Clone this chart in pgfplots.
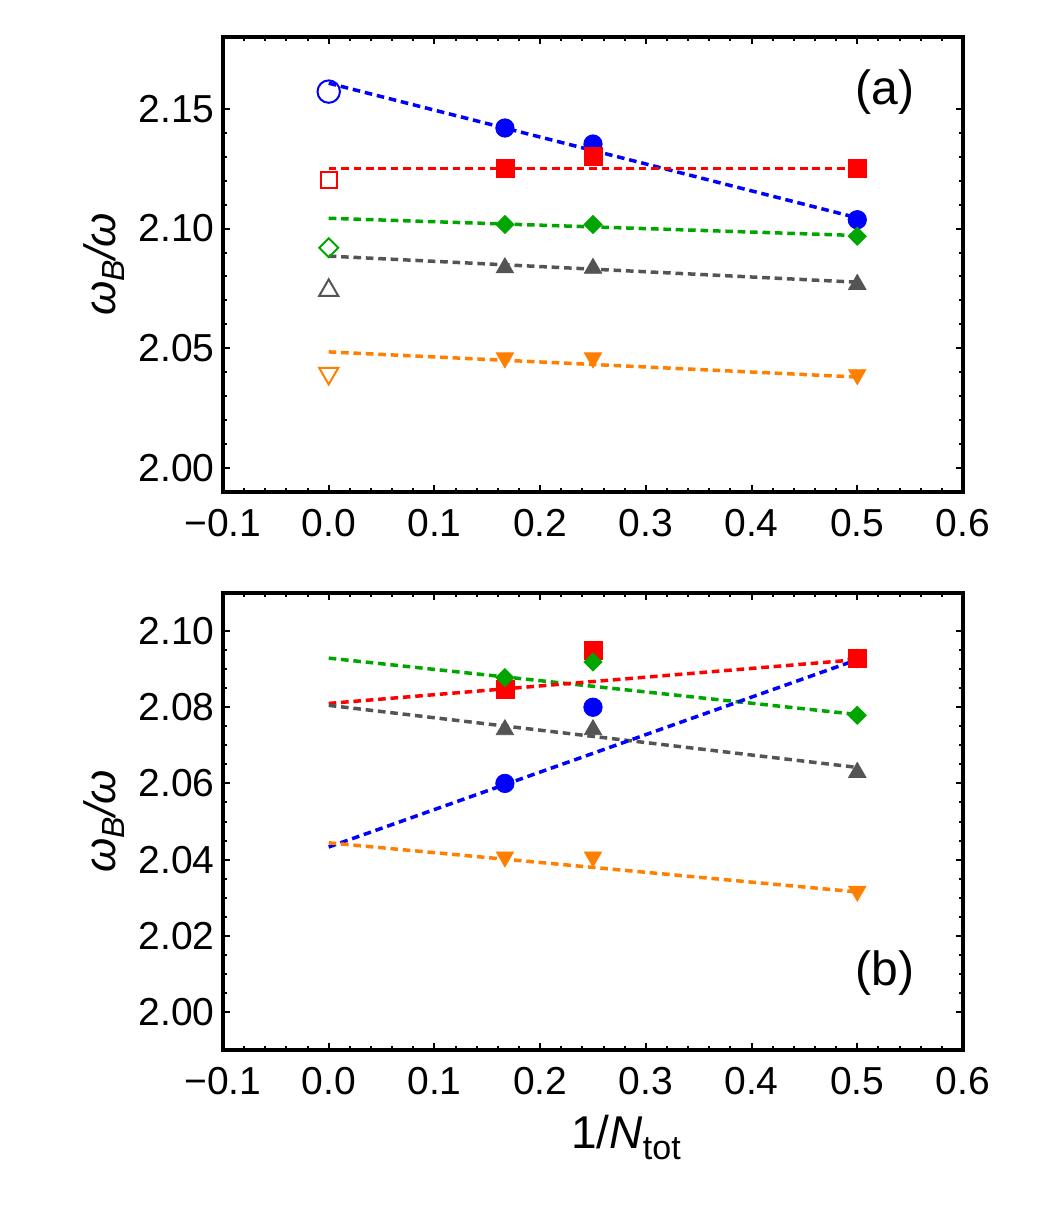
\documentclass[border=0pt]{standalone}
\usepackage{fontspec}
\setmainfont{Liberation Sans}
\usepackage{pgfplots}
\pgfplotsset{compat=1.18}

\definecolor{cblue}{rgb}{0,0,1}
\definecolor{cred}{rgb}{1,0,0}
\definecolor{cgreen}{rgb}{0,0.65,0}
\definecolor{cgray}{rgb}{0.33,0.33,0.33}
\definecolor{corange}{rgb}{1,0.5,0}

\newcommand\tickfont{\fontsize{19.5}{20}\selectfont}
\newcommand\wlabel{{\fontsize{22}{22}\selectfont\itshape ω\raisebox{-0.22em}{\fontsize{16}{16}\selectfont B}/ω}}

\pgfplotsset{
  panel/.style={
    scale only axis, width=370pt,
    xmin=-0.1, xmax=0.6,
    xtick={-0.1,0,0.1,0.2,0.3,0.4,0.5,0.6},
    xticklabels={−0.1,0.0,0.1,0.2,0.3,0.4,0.5,0.6},
    minor x tick num=4,
    axis line style={line width=2.4pt},
    tick style={black, line width=1pt},
    major tick length=3.6pt, minor tick length=2.1pt,
    tick align=inside,
    ticklabel style={font=\tickfont, inner sep=0pt},
    xticklabel style={yshift=-8.5pt},
    yticklabel style={xshift=-4pt},
    ylabel={\wlabel},
    ylabel style={at={(axis description cs:-0.1608,0.5)}, anchor=center, inner sep=0pt},
  },
  fit/.style={no marks, dash pattern=on 3.8pt off 2.4pt, line width=1.75pt},
  fcirc/.style={only marks, mark=*, mark size=4.6pt, mark options={draw=none}},
  ocirc/.style={only marks, mark=o, mark size=5.6pt, mark options={line width=1pt}},
  fsq/.style={only marks, mark=square*, mark size=4.5pt, mark options={draw=none}},
  osq/.style={only marks, mark=square, mark size=3.9pt, mark options={line width=1pt}},
  fdia/.style={only marks, mark=square*, mark size=3.2pt, mark options={draw=none, rotate=45}},
  odia/.style={only marks, mark=square, mark size=3.35pt, mark options={line width=1pt, rotate=45}},
  ftri/.style={only marks, mark=triangle*, mark size=5.0pt, mark options={draw=none}},
  otri/.style={only marks, mark=triangle, mark size=5.5pt, mark options={line width=1pt}},
  fdtri/.style={only marks, mark=triangle*, mark size=5.0pt, mark options={draw=none, rotate=180}},
  odtri/.style={only marks, mark=triangle, mark size=5.5pt, mark options={line width=1pt, rotate=180}},
}

\begin{document}
\begin{tikzpicture}
% overall page extent
\path (-111.5pt,-363.5pt) rectangle (409.5pt,246pt);

% ---------------- panel (a) ----------------
\begin{axis}[panel, at={(0,0)}, anchor=south west, height=227.5pt,
  ymin=1.99, ymax=2.18,
  ytick={2.00,2.05,2.10,2.15}, yticklabels={2.00,2.05,2.10,2.15},
  minor y tick num=4]
  % extrapolated values at 1/N_tot = 0
  \addplot[ocirc, cblue]   coordinates {(0,2.1572)};
  \addplot[osq,   cred]    coordinates {(0,2.1202)};
  \addplot[odia,  cgreen]  coordinates {(0,2.0920)};
  \addplot[otri,  cgray]   coordinates {(0,2.0742)};
  \addplot[odtri, corange] coordinates {(0,2.0395)};
  % finite-size results
  \addplot[fcirc, cblue]   coordinates {(0.16667,2.1420) (0.25,2.1353) (0.5,2.1037)};
  \addplot[fsq,   cred]    coordinates {(0.16667,2.1250) (0.25,2.1300) (0.5,2.1250)};
  \addplot[fdia,  cgreen]  coordinates {(0.16667,2.1017) (0.25,2.1017) (0.5,2.0968)};
  \addplot[ftri,  cgray]   coordinates {(0.16667,2.0836) (0.25,2.0834) (0.5,2.0767)};
  \addplot[fdtri, corange] coordinates {(0.16667,2.0460) (0.25,2.0460) (0.5,2.0390)};
  % linear fits
  \addplot[fit, cblue]   coordinates {(0,2.1607) (0.5,2.1045)};
  \addplot[fit, cred]    coordinates {(0,2.1250) (0.5,2.1250)};
  \addplot[fit, cgreen]  coordinates {(0,2.1043) (0.5,2.0971)};
  \addplot[fit, cgray]   coordinates {(0,2.0885) (0.5,2.0776)};
  \addplot[fit, corange] coordinates {(0,2.0485) (0.5,2.0380)};
  \node[font=\fontsize{24}{24}\selectfont] at (axis description cs:0.8946,0.879) {(a)};
\end{axis}

% ---------------- panel (b) ----------------
\begin{axis}[panel, at={(0,-279pt)}, anchor=south west, height=228.5pt,
  ymin=1.99, ymax=2.11,
  ytick={2.00,2.02,2.04,2.06,2.08,2.10}, yticklabels={2.00,2.02,2.04,2.06,2.08,2.10},
  minor y tick num=3,
  xlabel={{\fontsize{23}{23}\selectfont 1/\textit{N}\raisebox{-0.25em}{\fontsize{17}{17}\selectfont tot}}},
  xlabel style={at={(axis description cs:0.5446,0)}, anchor=base, yshift=-49pt, inner sep=0pt}]
  \addplot[fcirc, cblue]   coordinates {(0.16667,2.0600) (0.25,2.0800) (0.5,2.0928)};
  \addplot[fsq,   cred]    coordinates {(0.16667,2.0846) (0.25,2.0949) (0.5,2.0928)};
  \addplot[fdia,  cgreen]  coordinates {(0.16667,2.0878) (0.25,2.0919) (0.5,2.0779)};
  \addplot[ftri,  cgray]   coordinates {(0.16667,2.0741) (0.25,2.0741) (0.5,2.0629)};
  \addplot[fdtri, corange] coordinates {(0.16667,2.0407) (0.25,2.0407) (0.5,2.0317)};
  \addplot[fit, cgreen]  coordinates {(0,2.0929) (0.5,2.0781)};
  \addplot[fit, cred]    coordinates {(0,2.0810) (0.5,2.0925)};
  \addplot[fit, cgray]   coordinates {(0,2.0805) (0.5,2.0642)};
  \addplot[fit, cblue]   coordinates {(0,2.0433) (0.5,2.0925)};
  \addplot[fit, corange] coordinates {(0,2.0444) (0.5,2.0315)};
  \node[font=\fontsize{24}{24}\selectfont] at (axis description cs:0.8946,0.1685) {(b)};
\end{axis}
\end{tikzpicture}
\end{document}
